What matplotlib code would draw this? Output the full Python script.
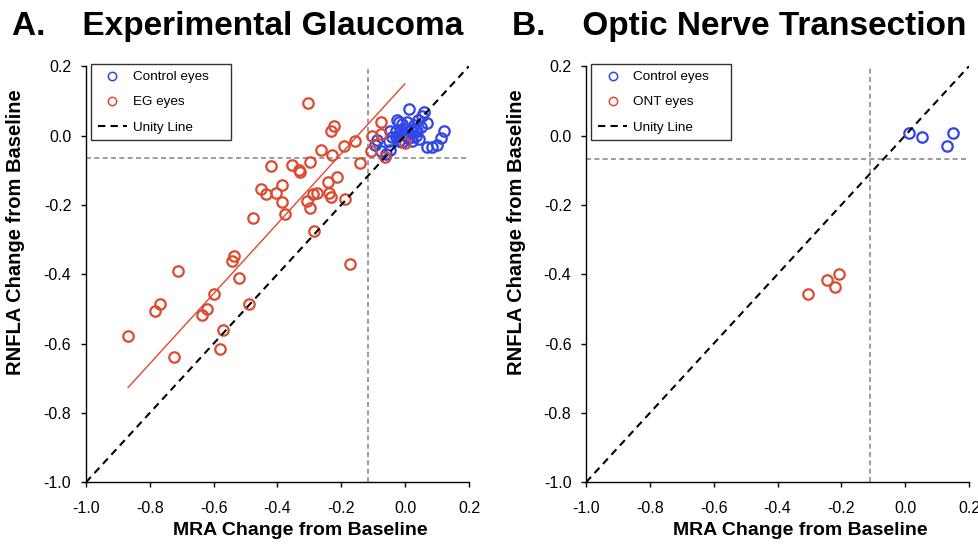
import matplotlib
matplotlib.use("Agg")
import matplotlib.pyplot as plt
import numpy as np

plt.rcParams['font.family'] = ['Liberation Sans', 'DejaVu Sans']

# ---------------- data ----------------
# Panel A: Experimental Glaucoma
eg_ctrl_x = [0.012, 0.059, 0.052, 0.041, -0.025, -0.019, 0.007, 0.068, -0.009, 0.028,
             -0.046, -0.030, -0.014, 0.017, 0.038, 0.122, 0.112, -0.040, -0.019, 0.002,
             0.023, 0.044, -0.051, -0.019, 0.023, 0.101, 0.069, 0.085, -0.093, -0.077,
             -0.046, -0.061, -0.088, -0.005, 0.010, -0.030, 0.030, -0.010, 0.000, 0.050,
             0.035]
eg_ctrl_y = [0.077, 0.069, 0.055, 0.045, 0.045, 0.040, 0.038, 0.036, 0.033, 0.031,
             0.012, 0.012, 0.016, 0.016, 0.012, 0.013, -0.008, -0.003, 0.002, 0.002,
             -0.003, -0.010, -0.017, -0.015, -0.017, -0.027, -0.032, -0.032, -0.027, -0.044,
             -0.041, -0.054, -0.013, 0.008, -0.008, -0.005, 0.020, -0.020, 0.020, 0.025,
             0.000]
eg_x = [-0.303, -0.224, -0.231, -0.156, -0.193, -0.263, -0.229, -0.298, -0.142, -0.420,
        -0.353, -0.334, -0.329, -0.214, -0.242, -0.385, -0.452, -0.436, -0.403, -0.290,
        -0.277, -0.237, -0.232, -0.385, -0.308, -0.187, -0.298, -0.376, -0.478, -0.284,
        -0.537, -0.542, -0.712, -0.174, -0.519, -0.598, -0.767, -0.783, -0.620, -0.635,
        -0.488, -0.868, -0.570, -0.580, -0.723, -0.103, -0.074, -0.074, -0.106, -0.064,
        -0.001]
eg_y = [0.094, 0.027, 0.012, -0.016, -0.030, -0.043, -0.055, -0.075, -0.079, -0.089,
        -0.085, -0.100, -0.105, -0.121, -0.134, -0.144, -0.153, -0.169, -0.167, -0.169,
        -0.166, -0.165, -0.177, -0.193, -0.188, -0.184, -0.209, -0.227, -0.239, -0.275,
        -0.347, -0.362, -0.391, -0.371, -0.411, -0.456, -0.486, -0.505, -0.499, -0.518,
        -0.486, -0.577, -0.560, -0.616, -0.639, -0.002, 0.004, 0.038, -0.044, -0.062,
        -0.023]
eg_fit_slope = 1.01
eg_fit_intercept = 0.150
eg_thresh_x = -0.117
eg_thresh_y = -0.066

# Panel B: Optic Nerve Transection
ont_ctrl_x = [0.012, 0.054, 0.151, 0.130]
ont_ctrl_y = [0.006, -0.004, 0.006, -0.030]
ont_x = [-0.303, -0.245, -0.208, -0.219]
ont_y = [-0.456, -0.417, -0.398, -0.437]
ont_thresh_x = -0.109
ont_thresh_y = -0.068

unity = [-1.0, 0.2]
ticks = [-1.0, -0.8, -0.6, -0.4, -0.2, 0.0, 0.2]
tick_labels = ['-1.0', '-0.8', '-0.6', '-0.4', '-0.2', '0.0', '0.2']

titles = ['A.    Experimental Glaucoma', 'B.    Optic Nerve Transection']
legend_labels_a = ['Control eyes', 'EG eyes', 'Unity Line']
legend_labels_b = ['Control eyes', 'ONT eyes', 'Unity Line']
xlabel = 'MRA Change from Baseline'
ylabel = 'RNFLA Change from Baseline'

# ---------------- style ----------------
RED = '#dc4a30'
BLUE = '#3046e6'
GRAY = '#8c8c8c'

fig = plt.figure(figsize=(9.79, 5.44), dpi=100)
axA = fig.add_axes([0.0878, 0.1134, 0.3912, 0.7650])
axB = fig.add_axes([0.5986, 0.1134, 0.3912, 0.7650])


def draw(ax, cx, cy, tx, ty, thx, thy, labels, fit=None):
    h1, = ax.plot(cx, cy, 'o', mfc='none', mec=BLUE, mew=1.6, ms=7.5,
                  label=labels[0], zorder=3)
    h2, = ax.plot(tx, ty, 'o', mfc='none', mec=RED, mew=1.6, ms=7.5,
                  label=labels[1], zorder=4)
    if fit is not None:
        xs = np.array([min(tx), max(tx)])
        ax.plot(xs, fit[0] * xs + fit[1], '-', color=RED, lw=1.0, zorder=2)
    ax.axvline(thx, color=GRAY, lw=1.2, dashes=(3, 2), zorder=1)
    ax.axhline(thy, color=GRAY, lw=1.2, dashes=(3, 2), zorder=1)
    h3, = ax.plot(unity, unity, color='black', lw=1.5, dashes=(3.5, 2.5),
                  label=labels[2], zorder=5)
    ax.set_xlim(-1.0, 0.2)
    ax.set_ylim(-1.0, 0.2)
    ax.set_xticks(ticks)
    ax.set_yticks(ticks)
    ax.set_xticklabels(tick_labels, fontsize=11.5,
                       family=['Liberation Sans Narrow', 'Liberation Sans'])
    ax.set_yticklabels(tick_labels, fontsize=11.5)
    ax.tick_params(axis='x', direction='out', length=3.5, width=1, pad=10)
    ax.tick_params(axis='y', direction='out', length=3.5, width=1, pad=7)
    for s in ['top', 'right']:
        ax.spines[s].set_visible(False)
    for s in ['left', 'bottom']:
        ax.spines[s].set_linewidth(1.0)
    ax.set_xlabel(xlabel, fontsize=14, fontweight='bold')
    ax.set_ylabel(ylabel, fontsize=14.5, fontweight='bold')
    ax.xaxis.set_label_coords(0.559, -0.095)
    ax.yaxis.set_label_coords(-0.158, 0.60)
    leg = ax.legend(handles=[h1, h2, h3], loc='upper left',
                    bbox_to_anchor=(0.013, 0.60, 0.365, 0.405), mode='expand',
                    borderaxespad=0, fontsize=9.7, frameon=True, fancybox=False,
                    labelspacing=0.95, borderpad=0.5, handlelength=2.2,
                    handletextpad=0.45, numpoints=1)
    for lh in leg.legend_handles[:2]:
        lh.set_markersize(6)
        lh.set_markeredgewidth(1.1)
    leg.get_frame().set_edgecolor('black')
    leg.get_frame().set_linewidth(1.0)
    leg.set_zorder(10)


draw(axA, eg_ctrl_x, eg_ctrl_y, eg_x, eg_y, eg_thresh_x, eg_thresh_y,
     legend_labels_a, fit=(eg_fit_slope, eg_fit_intercept))
draw(axB, ont_ctrl_x, ont_ctrl_y, ont_x, ont_y, ont_thresh_x, ont_thresh_y,
     legend_labels_b)

fig.text(12 / 979, 1 - 35 / 544, titles[0], fontsize=24, fontweight='bold',
         ha='left', va='baseline')
fig.text(512 / 979, 1 - 35 / 544, titles[1], fontsize=24, fontweight='bold',
         ha='left', va='baseline')

fig.savefig('out.png', dpi=100)
